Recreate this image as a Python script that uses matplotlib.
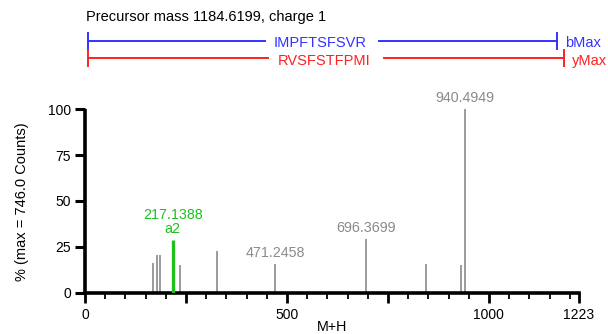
import matplotlib
matplotlib.use("Agg")
import matplotlib.pyplot as plt
from matplotlib.lines import Line2D

plt.rcParams['font.family'] = ['Liberation Sans', 'DejaVu Sans']

# ---- data ----
mz = [168, 178, 185, 217.1388, 235, 326, 471.2458, 696.3699, 843, 931, 940.4949]
intensity = [16.0, 20.5, 20.5, 28.7, 15.1, 22.9, 15.6, 29.1, 15.8, 14.9, 100.0]
ion_labels = ["", "", "", "a2", "", "", "", "", "", "", ""]
mz_labels = ["", "", "", "217.1388", "", "", "471.2458", "696.3699", "", "", "940.4949"]
xlim_max = 1223
x_tick_labels = ["0", "500", "1000", "1223"]
y_ticks = [0, 25, 50, 75, 100]
precursor_text = "Precursor mass 1184.6199, charge 1"
b_seq = "IMPFTSFSVR"
y_seq = "RVSFSTFPMI"

W, H = 608, 334
fig = plt.figure(figsize=(W / 100, H / 100), dpi=100)
ax = fig.add_axes([85 / W, 1 - 292.7 / H, (579 - 85) / W, (292.7 - 109.3) / H])

gray = "#8a8a8a"
green = "#1fbf1f"
for m, v, ion, lab in zip(mz, intensity, ion_labels, mz_labels):
    if ion:
        ax.vlines(m, 0, v, color=green, lw=2.4, zorder=3)
        ax.annotate(lab + "\n" + ion, (m, v), xytext=(0, 3), textcoords="offset points",
                    ha="center", va="bottom", color=green, fontsize=10.3, linespacing=0.95)
    else:
        ax.vlines(m, 0, v, color=gray, lw=1.2, zorder=2)
        if lab:
            ax.annotate(lab, (m, v), xytext=(0, 3), textcoords="offset points",
                        ha="center", va="bottom", color=gray, fontsize=10.3)

ax.set_xlim(0, xlim_max)
ax.set_ylim(0, 100)
for s in ["top", "right"]:
    ax.spines[s].set_visible(False)
ax.spines["left"].set_linewidth(2.6)
ax.spines["bottom"].set_linewidth(2.6)
ax.spines["left"].set_capstyle("butt")

major = [0, 250, 500, 750, 1000, xlim_max]
labels_major = []
for t in major:
    s = str(t)
    labels_major.append(s if s in x_tick_labels else "")
ax.set_xticks(major)
ax.set_xticklabels(labels_major)
ax.set_xticks(list(range(0, xlim_max, 50)), minor=True)
ax.tick_params(axis="x", which="major", length=7, width=2, direction="out", labelsize=10, pad=4)
ax.tick_params(axis="x", which="minor", length=4, width=1.3, direction="out")
ax.set_yticks(y_ticks)
ax.tick_params(axis="y", which="major", length=7, width=2.2, direction="out", labelsize=10, pad=3)

# ---- overlay in figure pixels ----
ov = fig.add_axes([0, 0, 1, 1], zorder=5)
ov.set_xlim(0, W)
ov.set_ylim(H, 0)
ov.axis("off")

ov.text(332, 326.7, "M+H", ha="center", va="center", fontsize=10.3)
ov.text(22, 201.7, "% (max = 746.0 Counts)", ha="center", va="center",
        rotation=90, fontsize=10.5)
ov.text(86, 17.3, precursor_text, ha="left", va="center", fontsize=10.5, color="black")

blue = "#3333ff"
red = "#ff2020"

def seq_bar(y, x0, x1, seq, tag, color, tx0, tx1, tcx, ty):
    ov.add_line(Line2D([x0, tx0], [y, y], color=color, lw=1.4))
    ov.add_line(Line2D([tx1, x1], [y, y], color=color, lw=1.4))
    ov.add_line(Line2D([x0, x0], [y - 8, y + 8], color=color, lw=1.4))
    ov.add_line(Line2D([x1, x1], [y - 8, y + 8], color=color, lw=1.4))
    ov.text(tcx, ty, seq, ha="center", va="center", fontsize=10.5, color=color)
    ov.text(x1 + 8, ty, tag, ha="left", va="center", fontsize=10.5, color=color)

seq_bar(40.7, 88.3, 556.7, b_seq, "bMax", blue, 265, 379, 320.5, 42.7)
seq_bar(58.3, 88.3, 564.3, y_seq, "yMax", red, 268, 384, 324, 61)

fig.savefig("out.png", dpi=100)
